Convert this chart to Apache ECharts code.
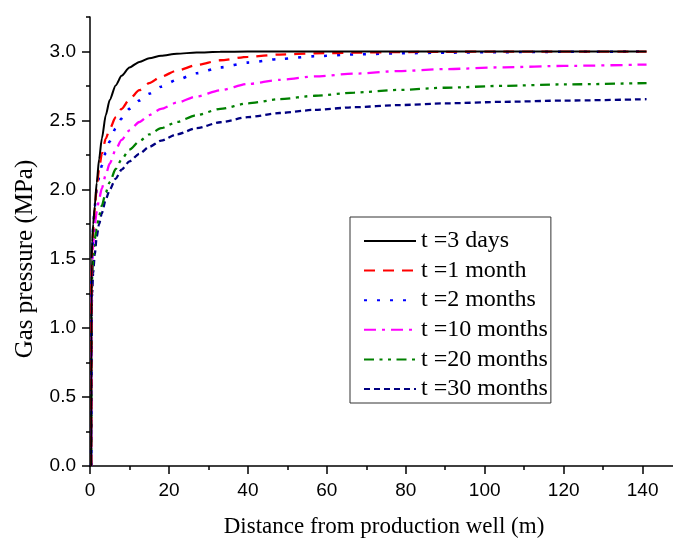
<!DOCTYPE html>
<html>
<head>
<meta charset="utf-8">
<script src="https://cdn.jsdelivr.net/npm/echarts@6/dist/echarts.min.js"></script>
<style>
html,body{margin:0;padding:0;background:#fff;}
#chart{width:673px;height:541px;}
</style>
</head>
<body>
<div id="chart"></div>
<script>
// Distance from production well (m)
const distance = [0.3, 0.4, 0.55, 0.8, 1.2, 1.7, 2.3, 3, 4, 5, 6.5, 8, 10, 12.5, 15, 18, 22, 27, 33, 40, 48, 57, 67, 78, 90, 105, 120, 141];
// Gas pressure (MPa) for each time
const p3days    = [0, 1.5, 1.62, 1.75, 1.88, 2.05, 2.22, 2.37, 2.54, 2.65, 2.755, 2.825, 2.885, 2.925, 2.952, 2.97, 2.984, 2.993, 2.998, 3.0, 3.0, 3.0, 3.0, 3.0, 3.0, 3.0, 3.0, 3.0];
const p1month   = [0, 1.45, 1.58, 1.7, 1.86, 2.02, 2.15, 2.26, 2.37, 2.44, 2.525, 2.585, 2.655, 2.72, 2.772, 2.818, 2.862, 2.902, 2.937, 2.962, 2.978, 2.987, 2.992, 2.996, 2.998, 3.0, 3.0, 3.0];
const p2months  = [0, 1.4, 1.55, 1.72, 1.88, 2.0, 2.09, 2.175, 2.27, 2.35, 2.445, 2.515, 2.585, 2.645, 2.695, 2.745, 2.795, 2.843, 2.885, 2.92, 2.946, 2.966, 2.979, 2.987, 2.992, 2.996, 2.998, 3.0];
const p10months = [0, 1.3, 1.45, 1.6, 1.75, 1.84, 1.93, 2.01, 2.11, 2.19, 2.29, 2.36, 2.43, 2.49, 2.54, 2.585, 2.63, 2.675, 2.72, 2.765, 2.795, 2.82, 2.84, 2.858, 2.873, 2.886, 2.896, 2.906];
const p20months = [0, 1.2, 1.36, 1.5, 1.64, 1.73, 1.81, 1.885, 1.98, 2.055, 2.15, 2.22, 2.29, 2.35, 2.4, 2.445, 2.49, 2.54, 2.585, 2.625, 2.655, 2.68, 2.703, 2.722, 2.738, 2.752, 2.762, 2.772];
const p30months = [0, 1.1, 1.25, 1.4, 1.53, 1.66, 1.75, 1.83, 1.93, 2.0, 2.08, 2.145, 2.205, 2.26, 2.31, 2.355, 2.4, 2.445, 2.488, 2.525, 2.555, 2.578, 2.597, 2.612, 2.625, 2.636, 2.645, 2.655];

const seriesNames = ['t =3 days', 't =1 month', 't =2 months', 't =10 months', 't =20 months', 't =30 months'];
const seriesValues = [p3days, p1month, p2months, p10months, p20months, p30months];
const seriesColors = ['#000000', '#ff0000', '#0000ff', '#ff00ff', '#008000', '#000080'];
const seriesDash = ['solid', [11, 8], [3, 10], [12, 6, 3, 6], [10, 5.5, 3, 5.5, 3, 5.5], [6, 4]];
const seriesWidth = [2, 2.3, 2.6, 2.3, 2.3, 2.3];

const xMajor = [0, 20, 40, 60, 80, 100, 120, 140];
const xMinor = [10, 30, 50, 70, 90, 110, 130];
const yMajor = [0, 0.5, 1.0, 1.5, 2.0, 2.5, 3.0];
const yMinor = [0.25, 0.75, 1.25, 1.75, 2.25, 2.75, 3.25];

const X_MAX = 147.7, Y_MAX = 3.25;

const chart = echarts.init(document.getElementById('chart'), null, {renderer: 'canvas'});

const axisLineStyle = {color: '#000', width: 1.5};
const labelStyle = {color: '#000', fontFamily: 'Liberation Sans', fontSize: 19};

const option = {
  animation: false,
  backgroundColor: '#fff',
  grid: {left: 90, right: 0, top: 17, bottom: 75, containLabel: false},
  xAxis: [
    {
      type: 'value', min: 0, max: X_MAX, position: 'bottom',
      axisLine: {show: true, lineStyle: axisLineStyle},
      axisTick: {show: true, length: 8, inside: false, customValues: xMajor, lineStyle: {color: '#000', width: 1.5}},
      axisLabel: {customValues: xMajor, margin: 15, ...labelStyle, formatter: v => String(v)},
      splitLine: {show: false}
    },
    {
      type: 'value', min: 0, max: X_MAX, position: 'bottom',
      axisLine: {show: false},
      axisTick: {show: true, length: 4, inside: false, customValues: xMinor, lineStyle: {color: '#000', width: 1.5}},
      axisLabel: {show: false},
      splitLine: {show: false}
    }
  ],
  yAxis: [
    {
      type: 'value', min: 0, max: Y_MAX, position: 'left',
      axisLine: {show: true, lineStyle: axisLineStyle},
      axisTick: {show: true, length: 8, inside: false, customValues: yMajor, lineStyle: {color: '#000', width: 1.5}},
      axisLabel: {customValues: yMajor, margin: 14, ...labelStyle, formatter: v => v.toFixed(1)},
      splitLine: {show: false}
    },
    {
      type: 'value', min: 0, max: Y_MAX, position: 'left',
      axisLine: {show: false},
      axisTick: {show: true, length: 4, inside: false, customValues: yMinor, lineStyle: {color: '#000', width: 1.5}},
      axisLabel: {show: false},
      splitLine: {show: false}
    }
  ],
  legend: {
    orient: 'vertical',
    left: 350, top: 217,
    padding: [12, 3, 2, 13],
    itemWidth: 52, itemHeight: 14, itemGap: 5.6,
    borderColor: '#333', borderWidth: 1,
    backgroundColor: '#fff',
    itemStyle: {opacity: 0},
    textStyle: {color: '#000', fontFamily: 'Liberation Serif', fontSize: 24, lineHeight: 24},
    data: seriesNames
  },
  graphic: [
    {type: 'text', x: 384, y: 527, style: {text: 'Distance from production well (m)', font: '23px "Liberation Serif"', fill: '#000', align: 'center', verticalAlign: 'middle'}},
    {type: 'text', rotation: Math.PI / 2, x: 25, y: 259, style: {text: 'Gas pressure (MPa)', font: '25px "Liberation Serif"', fill: '#000', align: 'center', verticalAlign: 'middle'}}
  ],
  series: seriesNames.map((name, i) => ({
    name: name,
    type: 'line',
    data: distance.map((d, j) => [d, seriesValues[i][j]]),
    showSymbol: false,
    symbol: 'none',
    smooth: 0.25,
    smoothMonotone: 'x',
    color: seriesColors[i],
    lineStyle: {color: seriesColors[i], width: seriesWidth[i], type: seriesDash[i]},
    z: 10 - i
  }))
};
chart.setOption(option);
</script>
</body>
</html>
